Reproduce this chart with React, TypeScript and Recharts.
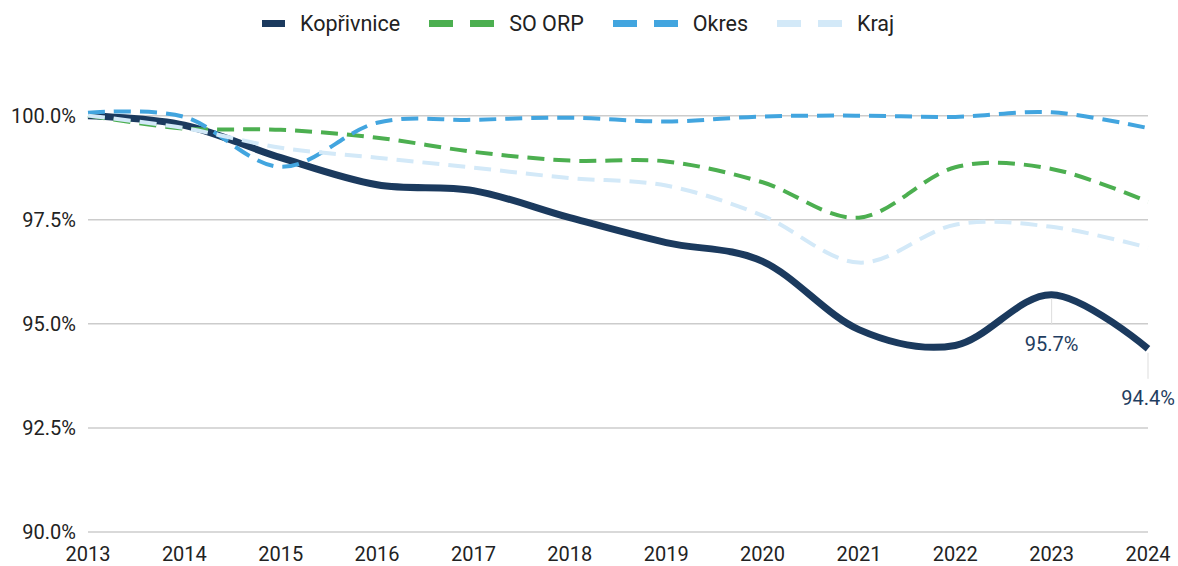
import React from 'react';
import { LineChart, Line, XAxis, YAxis, CartesianGrid, LabelList } from 'recharts';

const years = ['2013', '2014', '2015', '2016', '2017', '2018', '2019', '2020', '2021', '2022', '2023', '2024'];
const koprivnice = [100.0, 99.77, 98.99, 98.34, 98.2, 97.55, 96.95, 96.5, 94.86, 94.48, 95.7, 94.4];
const soOrp = [100.0, 99.69, 99.66, 99.47, 99.13, 98.92, 98.9, 98.4, 97.55, 98.76, 98.72, 97.93];
const okres = [100.07, 99.97, 98.77, 99.83, 99.9, 99.95, 99.86, 99.98, 100.0, 99.97, 100.08, 99.7];
const kraj = [100.0, 99.7, 99.23, 98.99, 98.75, 98.5, 98.32, 97.6, 96.47, 97.38, 97.33, 96.83];
const yTicks = [90, 92.5, 95, 97.5, 100];
const labeledYears = ['2023', '2024'];

const series = [
  { key: 'koprivnice', name: 'Kopřivnice', color: '#1b3a5e', width: 7, dash: undefined },
  { key: 'soOrp', name: 'SO ORP', color: '#4caf50', width: 4, dash: '17 9' },
  { key: 'okres', name: 'Okres', color: '#42a5df', width: 4, dash: '17 9' },
  { key: 'kraj', name: 'Kraj', color: '#d3e9f8', width: 4, dash: '17 9' },
];

const data = years.map((year, i) => ({
  year,
  koprivnice: koprivnice[i],
  soOrp: soOrp[i],
  okres: okres[i],
  kraj: kraj[i],
}));

// catmull-rom style smoothing (similar to the "function" curve of the source)
const smoothCurve = (context: any) => {
  const k = 1 / 6;
  let x0 = NaN, y0 = NaN, x1 = NaN, y1 = NaN, x2 = NaN, y2 = NaN;
  let state = 0;
  const seg = (x: number, y: number) => {
    context.bezierCurveTo(x1 + k * (x2 - x0), y1 + k * (y2 - y0), x2 + k * (x1 - x), y2 + k * (y1 - y), x2, y2);
  };
  return {
    areaStart() {},
    areaEnd() {},
    lineStart() {
      x0 = x1 = x2 = y0 = y1 = y2 = NaN;
      state = 0;
    },
    lineEnd() {
      if (state === 2) context.lineTo(x2, y2);
      else if (state === 3) seg(x1, y1);
    },
    point(x: number, y: number) {
      if (state === 0) {
        state = 1;
        context.moveTo(x, y);
      } else if (state === 1) {
        state = 2;
        x1 = x;
        y1 = y;
      } else {
        state = 3;
        seg(x, y);
      }
      x0 = x1; x1 = x2; x2 = x;
      y0 = y1; y1 = y2; y2 = y;
    },
  };
};

const font = 'Roboto, sans-serif';

const renderLabel = (props: any) => {
  const { x, y, value, index } = props;
  if (!labeledYears.includes(years[index])) return null;
  return (
    <g>
      <line x1={x} y1={y + 4} x2={x} y2={y + 30} stroke="#dddddd" strokeWidth={1} />
      <text x={x} y={y + 49} textAnchor="middle" dominantBaseline="central" fill="#1f3d60" fontSize={20} fontFamily={font}>
        {`${Number(value).toFixed(1)}%`}
      </text>
    </g>
  );
};

const LegendRow = () => (
  <div style={{ position: 'absolute', top: 11, left: 262, display: 'flex', alignItems: 'center', fontFamily: font, fontSize: 21.5, color: '#222' }}>
    {series.map((s, i) => (
      <div key={s.key} style={{ display: 'flex', alignItems: 'center', marginRight: i < series.length - 1 ? 29 : 0 }}>
        <svg width={s.dash ? 65 : 23} height={8} style={{ marginRight: 15 }}>
          {s.dash ? (
            <>
              <rect x={0} y={0} width={24} height={7} fill={s.color} />
              <rect x={41} y={0} width={24} height={7} fill={s.color} />
            </>
          ) : (
            <rect x={0} y={0} width={23} height={7} fill={s.color} />
          )}
        </svg>
        <span style={{ lineHeight: '26px' }}>{s.name}</span>
      </div>
    ))}
  </div>
);

export default function App() {
  return (
    <div style={{ position: 'absolute', left: 0, top: 0, width: 1178, height: 566, background: '#fff' }}>
      <LegendRow />
      <LineChart width={1178} height={566} data={data} margin={{ top: 74, right: 30, left: 0, bottom: 0 }}>
        <CartesianGrid vertical={false} horizontalValues={yTicks} stroke="#cccccc" strokeWidth={1.5} />
        <XAxis
          dataKey="year"
          axisLine={false}
          tickLine={false}
          tickSize={0}
          tickMargin={15}
          height={34}
          interval={0}
          tick={{ fill: '#222', fontSize: 20, fontFamily: font }}
        />
        <YAxis
          domain={[90, 101]}
          ticks={yTicks}
          width={88}
          axisLine={false}
          tickLine={false}
          tickSize={0}
          tickMargin={12}
          allowDataOverflow
          tickFormatter={(v: number) => `${v.toFixed(1)}%`}
          tick={{ fill: '#222', fontSize: 20, fontFamily: font }}
        />
        {series.map((s) => (
          <Line
            key={s.key}
            dataKey={s.key}
            name={s.name}
            type={smoothCurve as any}
            stroke={s.color}
            strokeWidth={s.width}
            strokeDasharray={s.dash}
            dot={false}
            activeDot={false}
            isAnimationActive={false}
          >
            {s.key === 'koprivnice' && <LabelList dataKey="koprivnice" content={renderLabel} />}
          </Line>
        ))}
      </LineChart>
    </div>
  );
}
